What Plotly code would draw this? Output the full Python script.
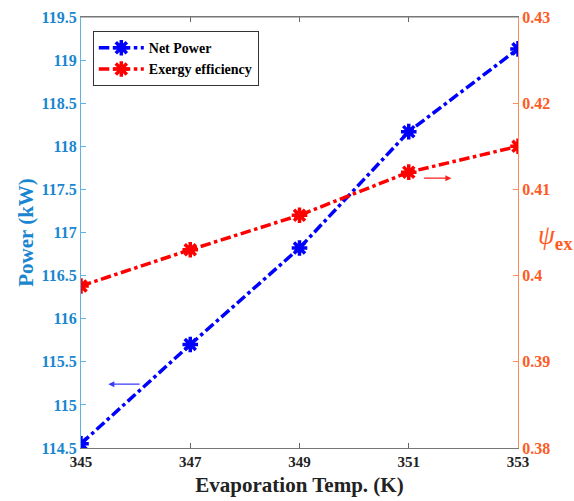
import plotly.graph_objects as go

temps = [345, 347, 349, 351, 353]
net_power = [114.55, 115.70, 116.82, 118.17, 119.13]
exergy_eff = [0.3988, 0.4030, 0.4070, 0.4120, 0.4150]
x_ticks = [345, 347, 349, 351, 353]
y1_ticks = [114.5, 115, 115.5, 116, 116.5, 117, 117.5, 118, 118.5, 119, 119.5]
y1_labels = ["114.5", "115", "115.5", "116", "116.5", "117", "117.5", "118", "118.5", "119", "119.5"]
y2_ticks = [0.38, 0.39, 0.40, 0.41, 0.42, 0.43]
y2_labels = ["0.38", "0.39", "0.4", "0.41", "0.42", "0.43"]

FONT = "Liberation Serif"
BLUE_AX = "#5fb3e6"
BLUE_TXT = "#1a86d0"
ORANGE_AX = "#ff8a5c"
ORANGE_TXT = "#ff5a1f"

fig = go.Figure()
fig.add_trace(go.Scatter(
    x=temps, y=net_power, name="Net Power", mode="lines+markers",
    line=dict(color="#0000ff", width=3.5, dash="dashdot"),
    marker=dict(symbol="asterisk-open", size=13, color="#0000ff",
                line=dict(color="#0000ff", width=3.5)),
    yaxis="y"))
fig.add_trace(go.Scatter(
    x=temps, y=exergy_eff, name="Exergy efficiency", mode="lines+markers",
    line=dict(color="#ff0000", width=3.5, dash="dashdot"),
    marker=dict(symbol="asterisk-open", size=13, color="#ff0000",
                line=dict(color="#ff0000", width=3.5)),
    yaxis="y2"))

# direction arrows
fig.add_annotation(x=345.5, y=115.24, ax=346.1, ay=115.24, xref="x", yref="y",
                   axref="x", ayref="y", text="", showarrow=True,
                   arrowhead=2, arrowsize=1, arrowwidth=1.2, arrowcolor="#3a3aff")
fig.add_annotation(x=351.78, y=0.4113, ax=351.25, ay=0.4113, xref="x", yref="y2",
                   axref="x", ayref="y2", text="", showarrow=True,
                   arrowhead=2, arrowsize=1, arrowwidth=1.2, arrowcolor="#ff2020")

# right axis label (horizontal)
fig.add_annotation(x=1.0, y=0.49, xref="paper", yref="paper", xanchor="left",
                   xshift=18, showarrow=False,
                   text="<i>ψ</i><sub><b>ex</b></sub>",
                   font=dict(family=FONT, size=27, color=ORANGE_TXT))

fig.update_layout(
    width=574, height=501,
    margin=dict(l=81, r=56, t=17, b=53),
    paper_bgcolor="white", plot_bgcolor="white",
    font=dict(family=FONT, color="black"),
    showlegend=True,
    legend=dict(x=0.027, y=0.967, xanchor="left", yanchor="top",
                bgcolor="white", bordercolor="#333333", borderwidth=1,
                font=dict(family=FONT, size=14, color="black", weight="bold"),
                tracegroupgap=0, itemwidth=45),
    xaxis=dict(range=[345, 353], tickvals=x_ticks, ticktext=[str(t) for t in x_ticks],
               ticks="inside", ticklen=5, tickcolor="#666666", automargin=False,
               showline=True, linecolor="#777777", linewidth=1.2, mirror="ticks",
               showgrid=False, zeroline=False,
               tickfont=dict(family=FONT, size=15, color="#222222", weight="bold"),
               title=dict(text="Evaporation Temp. (K)",
                          font=dict(family=FONT, size=21, color="#222222", weight="bold"), standoff=8)),
    yaxis=dict(range=[114.5, 119.5], tickvals=y1_ticks, ticktext=y1_labels,
               ticks="inside", ticklen=5, tickcolor=BLUE_AX, automargin=False,
               showline=True, linecolor=BLUE_AX, linewidth=1.2,
               showgrid=False, zeroline=False,
               tickfont=dict(family=FONT, size=16, color=BLUE_TXT, weight="bold"),
               title=dict(text="Power (kW)",
                          font=dict(family=FONT, size=21, color=BLUE_TXT, weight="bold"), standoff=2)),
    yaxis2=dict(range=[0.38, 0.43], tickvals=y2_ticks, ticktext=y2_labels,
                overlaying="y", side="right", automargin=False,
                ticks="inside", ticklen=5, tickcolor=ORANGE_AX,
                showline=True, linecolor=ORANGE_AX, linewidth=1.2,
                showgrid=False, zeroline=False,
                tickfont=dict(family=FONT, size=16, color=ORANGE_TXT, weight="bold")),
)
fig.add_shape(type="line", xref="paper", yref="paper", x0=0, x1=1, y0=1, y1=1,
              line=dict(color="#777777", width=1.2))

fig.write_html("out.html")
